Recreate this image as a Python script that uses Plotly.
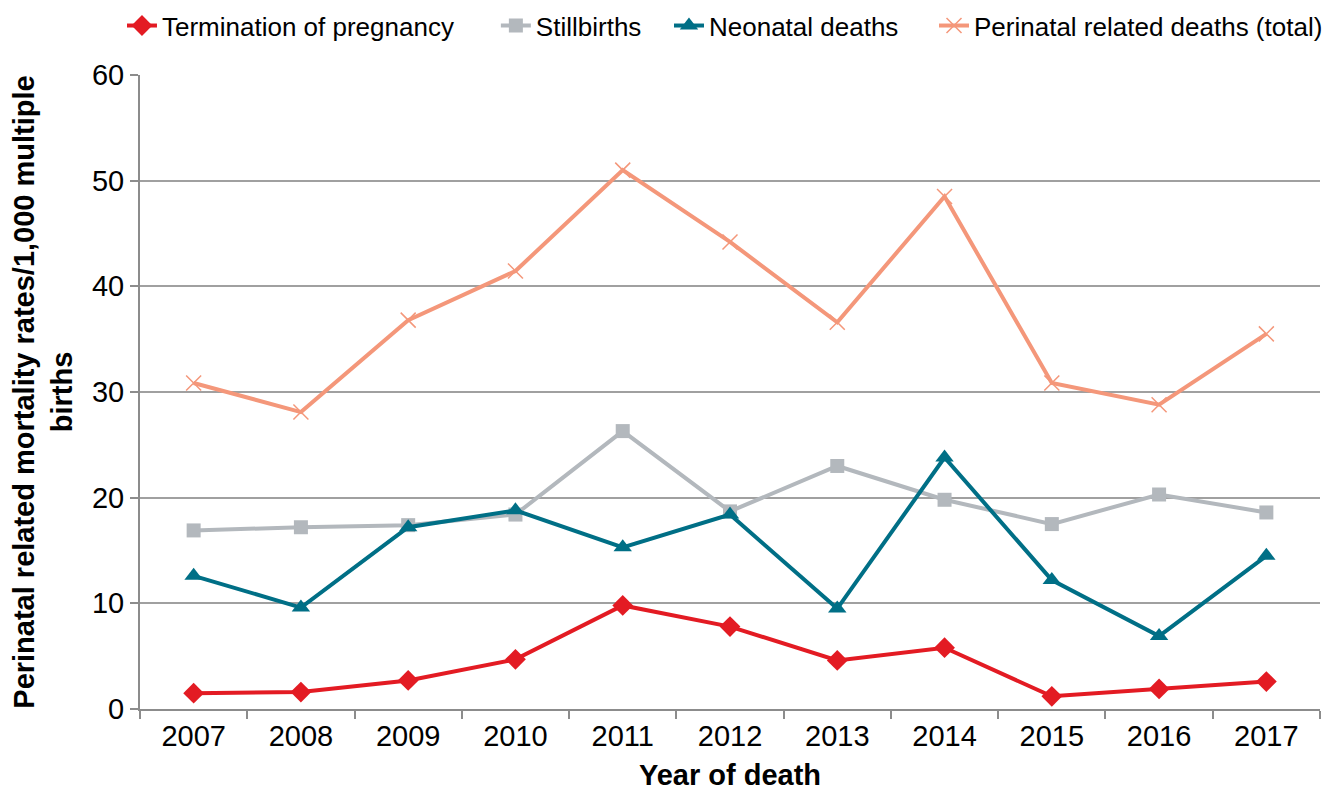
import plotly.graph_objects as go

years = ["2007", "2008", "2009", "2010", "2011", "2012", "2013", "2014", "2015", "2016", "2017"]
termination = [1.5, 1.6, 2.7, 4.7, 9.8, 7.8, 4.6, 5.8, 1.2, 1.9, 2.6]
stillbirths = [16.9, 17.2, 17.4, 18.4, 26.3, 18.7, 23.0, 19.8, 17.5, 20.3, 18.6]
neonatal = [12.6, 9.6, 17.2, 18.8, 15.3, 18.4, 9.5, 23.8, 12.2, 6.9, 14.5]
perinatal_total = [30.85, 28.1, 36.8, 41.45, 51.0, 44.2, 36.6, 48.5, 30.85, 28.8, 35.5]

fig = go.Figure()
fig.add_trace(go.Scatter(x=years, y=termination, name="Termination of pregnancy", mode="lines+markers",
                         line=dict(color="#E31B23", width=4), legend="legend",
                         marker=dict(symbol="diamond", size=16, color="#E31B23")))
fig.add_trace(go.Scatter(x=years, y=stillbirths, name="Stillbirths", mode="lines+markers",
                         line=dict(color="#B3B8BD", width=4), legend="legend2",
                         marker=dict(symbol="square", size=14, color="#B3B8BD")))
fig.add_trace(go.Scatter(x=years, y=neonatal, name="Neonatal deaths", mode="lines+markers",
                         line=dict(color="#006F86", width=4), legend="legend3",
                         marker=dict(symbol="triangle-up", size=16, color="#006F86")))
fig.add_trace(go.Scatter(x=years, y=perinatal_total, name="Perinatal related deaths (total)", mode="lines+markers",
                         line=dict(color="#F4977A", width=4), legend="legend4",
                         marker=dict(symbol="x-thin", size=15, color="#F4977A",
                                     line=dict(color="#F4977A", width=1.5))))

def leg(xpos):
    return dict(orientation="h", xref="container", x=xpos, xanchor="left",
                yref="container", y=0.978, yanchor="middle",
                font=dict(size=26), bgcolor="rgba(0,0,0,0)")

fig.update_layout(
    width=1344, height=801,
    margin=dict(l=132, r=32, t=67, b=100, autoexpand=False),
    paper_bgcolor="white", plot_bgcolor="white",
    font=dict(family="Liberation Sans, Arial, sans-serif", size=26, color="black"),
    legend=leg(0.0848), legend2=leg(0.363), legend3=leg(0.4918), legend4=leg(0.689),
    showlegend=True,
)
fig.update_xaxes(
    type="category", range=[-0.5, 10.5],
    showline=True, linecolor="#8C8C8C", linewidth=2,
    ticks="outside", tickson="boundaries", ticklen=8, tickcolor="#8C8C8C", tickwidth=1.5,
    showgrid=False, tickfont=dict(size=29),
    title=dict(text="<b>Year of death</b>", font=dict(size=29), standoff=14),
)
fig.update_yaxes(
    range=[0, 60], dtick=10,
    showline=True, linecolor="#8C8C8C", linewidth=2,
    ticks="outside", ticklen=8, tickcolor="#8C8C8C", tickwidth=1.5,
    showgrid=True, gridcolor="#A0A0A0", gridwidth=1.5,
    zeroline=False, tickfont=dict(size=29),
    title=dict(text="<b>Perinatal related mortality rates/1,000 multiple<br>births</b>", font=dict(size=29), standoff=14),
)

fig.write_html("out.html")
